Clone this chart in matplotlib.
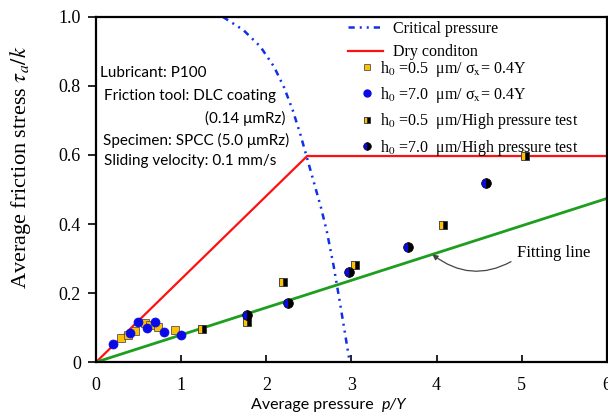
import matplotlib
matplotlib.use("Agg")
import matplotlib.pyplot as plt
from matplotlib.lines import Line2D

plt.rcParams['mathtext.fontset'] = 'stix'

# critical pressure curve
crit_x = [1.49, 1.73, 1.93, 2.09, 2.21, 2.31, 2.40, 2.48, 2.56, 2.64, 2.71, 2.79, 2.87, 2.94, 2.98]
crit_y = [1.0, 0.962, 0.914, 0.856, 0.795, 0.73, 0.66, 0.59, 0.52, 0.45, 0.38, 0.28, 0.165, 0.06, 0.0]

# dry condition
dry_x = [0, 2.48, 6]
dry_y = [0, 0.597, 0.597]

# fitting line
fit_x = [0, 6]
fit_y = [0, 0.474]

# h0 = 0.5 um / sigma_x = 0.4Y
sq_x = [0.29, 0.37, 0.46, 0.57, 0.63, 0.73, 0.93]
sq_y = [0.069, 0.078, 0.090, 0.112, 0.107, 0.102, 0.093]

# h0 = 7.0 um / sigma_x = 0.4Y
ci_x = [0.20, 0.40, 0.49, 0.60, 0.69, 0.80, 1.00]
ci_y = [0.054, 0.083, 0.117, 0.100, 0.115, 0.088, 0.079]

# h0 = 0.5 um / high pressure test
hp_sq_x = [1.24, 1.77, 2.20, 3.04, 4.07, 5.04]
hp_sq_y = [0.097, 0.117, 0.232, 0.281, 0.397, 0.597]

# h0 = 7.0 um / high pressure test
hp_ci_x = [1.77, 2.26, 2.97, 3.66, 4.58]
hp_ci_y = [0.136, 0.170, 0.260, 0.334, 0.520]

orange = '#FFC000'
blue = '#0A0AE6'
crit_dash = (2.5, 2.0, 0.8, 2.0, 0.8, 2.0)

fig = plt.figure(figsize=(6.08, 4.12), dpi=100)
ax = fig.add_axes([0.158, 0.121, 0.840, 0.838])

ax.plot(crit_x, crit_y, color='#1030E8', lw=1.8, dashes=crit_dash)
ax.plot(dry_x, dry_y, color='#FF1010', lw=1.6)
ax.plot(fit_x, fit_y, color='#1E9E1E', lw=2)

ax.plot(sq_x, sq_y, 's', ms=5.5, mfc=orange, mec='#555555', mew=0.6)
ax.plot(ci_x, ci_y, 'o', ms=6.5, mfc=blue, mec=blue, mew=0.5)
ax.plot(hp_sq_x, hp_sq_y, 's', ms=5.5, fillstyle='left', mfc=orange, mfcalt='black',
        mec='#333333', mew=0.6)
ax.plot(hp_ci_x, hp_ci_y, 'o', ms=7, fillstyle='left', mfc=blue, mfcalt='black',
        mec='black', mew=0.5)

ax.set_xlim(0, 6)
ax.set_ylim(0, 1.0)
ax.set_xticks([0, 1, 2, 3, 4, 5, 6])
ax.set_xticklabels(['0', '1', '2', '3', '4', '5', '6'])
ax.set_yticks([0, 0.2, 0.4, 0.6, 0.8, 1.0])
ax.set_yticklabels(['0', '0.2', '0.4', '0.6', '0.8', '1.0'])
for lab in ax.get_xticklabels() + ax.get_yticklabels():
    lab.set_family('Liberation Serif')
    lab.set_fontsize(13)
ax.tick_params(axis='x', direction='in', length=5, width=1.2, pad=11)
ax.tick_params(axis='y', direction='out', length=6, width=1.2, pad=5)
for sp in ax.spines.values():
    sp.set_linewidth(1.6)

ax.set_ylabel(r'Average friction stress $\tau_a/k$', family='Liberation Serif', fontsize=16)
ax.yaxis.set_label_coords(-0.124, 0.565)
ax.set_xlabel('Average pressure  ', family='Lato', fontsize=11.5, ha='right')
ax.xaxis.set_label_coords(0.56, -0.104)
ax.text(0.56, -0.104, 'p/Y', transform=ax.transAxes, family='Lato', style='italic',
        fontsize=11.5, va='top')

# conditions
info = dict(family='Lato', fontsize=11, va='center', transform=ax.transAxes)
ax.text(0.008, 0.838, 'Lubricant: P100', ha='left', **info)
ax.text(0.016, 0.771, 'Friction tool: DLC coating', ha='left', **info)
ax.text(0.37, 0.707, '(0.14 μmRz)', ha='right', **info)
ax.text(0.014, 0.643, 'Specimen: SPCC (5.0 μmRz)', ha='left', **info)
ax.text(0.016, 0.583, 'Sliding velocity: 0.1 mm/s', ha='left', **info)

# fitting line annotation
ax.annotate('Fitting line', xy=(3.95, 0.312), xytext=(4.95, 0.316),
            family='Liberation Serif', fontsize=12, va='center', ha='left',
            arrowprops=dict(arrowstyle='-|>', color='#444444', lw=0.9, mutation_scale=8,
                            connectionstyle='arc3,rad=-0.35', relpos=(0, 0.2), shrinkA=3, shrinkB=0))

# legends
line_handles = [
    Line2D([], [], color='#1030E8', lw=1.8, dashes=crit_dash),
    Line2D([], [], color='#FF1010', lw=1.6),
]
leg1 = ax.legend(line_handles, ['Critical pressure', 'Dry conditon'],
                 loc='upper left', bbox_to_anchor=(0.493, 0.988), frameon=False,
                 borderpad=0, borderaxespad=0, handlelength=2.2, handletextpad=0.6,
                 labelspacing=0.45, prop={'family': 'Liberation Serif', 'size': 11.5})
ax.add_artist(leg1)

mark_handles = [
    Line2D([], [], ls='none', marker='s', ms=4.5, mfc=orange, mec='#555555', mew=0.6),
    Line2D([], [], ls='none', marker='o', ms=5, mfc=blue, mec=blue),
    Line2D([], [], ls='none', marker='s', ms=4.5, fillstyle='left', mfc=orange,
           mfcalt='black', mec='#333333', mew=0.6),
    Line2D([], [], ls='none', marker='o', ms=5.5, fillstyle='left', mfc=blue,
           mfcalt='black', mec='black', mew=0.5),
]
mark_labels = [
    r'h$_0$ =0.5  μm/ σ$_{\rm x}$= 0.4Y',
    r'h$_0$ =7.0  μm/ σ$_{\rm x}$= 0.4Y',
    r'h$_0$ =0.5  μm/High pressure test',
    r'h$_0$ =7.0  μm/High pressure test',
]
ax.legend(mark_handles, mark_labels, loc='upper left', bbox_to_anchor=(0.518, 0.879),
          frameon=False, borderpad=0, borderaxespad=0, handlelength=0.8,
          handletextpad=0.4, labelspacing=0.40,
          prop={'family': 'Liberation Serif', 'size': 11.5})

fig.savefig('out.png', dpi=100)
